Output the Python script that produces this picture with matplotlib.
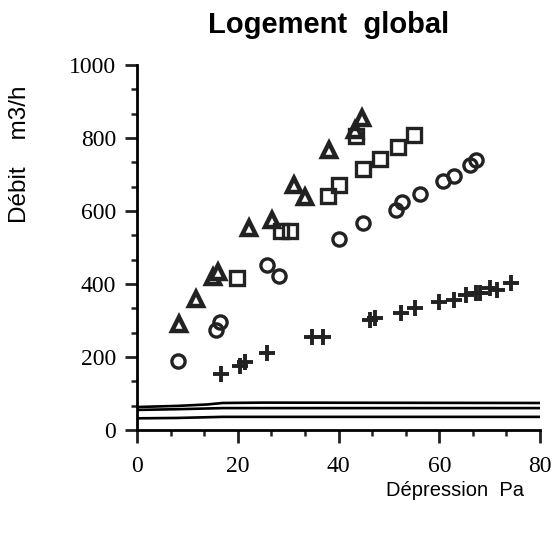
import numpy as np
import matplotlib
matplotlib.use("Agg")
import matplotlib.pyplot as plt
from matplotlib.ticker import MultipleLocator

# triangles
tri_x = [8.3, 11.7, 15.1, 16.1, 22.2, 26.8, 31.2, 33.3, 38.1, 43.3, 44.6]
tri_y = [290, 359, 419, 433, 553, 575, 671, 638, 767, 822, 855]
# squares
sq_x = [19.8, 28.5, 30.3, 37.9, 40.1, 43.5, 44.8, 48.2, 51.8, 55.0]
sq_y = [416, 545, 545, 641, 671, 806, 715, 742, 775, 808]
# circles
circ_x = [8.2, 15.7, 16.5, 25.8, 28.2, 40.1, 44.8, 51.4, 52.6, 56.2, 60.7, 62.9, 66.1, 67.3]
circ_y = [189, 274, 296, 452, 422, 523, 567, 603, 625, 647, 682, 696, 726, 740]
# crosses
plus_x = [16.7, 20.5, 21.5, 25.8, 34.7, 36.9, 46.2, 47.2, 52.4, 55.2, 59.9, 62.9,
          65.3, 67.3, 68.0, 70.0, 71.4, 74.2]
plus_y = [153, 175, 185, 211, 255, 255, 301, 306, 320, 334, 351, 356,
          370, 375, 375, 389, 384, 403]

# bottom curves
line_x = [0, 8, 14, 17, 25, 80]
line1 = [63, 66, 70, 74, 75, 74]
line2 = [55, 57, 59, 60, 60, 60]
line3 = [32, 33, 35, 36, 36, 36]

fig = plt.figure(figsize=(5.55, 5.36), dpi=100)
ax = fig.add_axes([137/555, 1 - 430/536, 403/555, 365/536])

for ly in (line1, line2, line3):
    ax.plot(line_x, ly, "-k", linewidth=1.9)

ax.plot(tri_x, tri_y, linestyle="none", marker="^", markersize=10,
        markerfacecolor="white", markeredgecolor="#222222", markeredgewidth=3.2)
ax.plot(sq_x, sq_y, linestyle="none", marker="s", markersize=10,
        markerfacecolor="none", markeredgecolor="#222222", markeredgewidth=2.4)
ax.plot(circ_x, circ_y, linestyle="none", marker="o", markersize=9.5,
        markerfacecolor="none", markeredgecolor="#222222", markeredgewidth=2.4)
ax.plot(plus_x, plus_y, linestyle="none", marker="+", markersize=12,
        markeredgecolor="#222222", markeredgewidth=2.8)

ax.set_xlim(0, 80)
ax.set_ylim(0, 1000)
ax.spines["top"].set_visible(False)
ax.spines["right"].set_visible(False)
ax.spines["left"].set_linewidth(2)
ax.spines["bottom"].set_linewidth(2)

ax.xaxis.set_major_locator(MultipleLocator(20))
ax.xaxis.set_minor_locator(MultipleLocator(20/3))
ax.yaxis.set_major_locator(MultipleLocator(200))
ax.yaxis.set_minor_locator(MultipleLocator(200/3))
ax.tick_params(which="major", direction="out", length=9, width=2, color="#222222")
ax.tick_params(which="minor", direction="out", length=4, width=1.8, color="#222222")
ax.tick_params(axis="both", labelsize=17)
ax.tick_params(axis="x", pad=10)
ax.tick_params(axis="y", pad=6)
for lab in ax.get_xticklabels() + ax.get_yticklabels():
    lab.set_fontfamily("Liberation Serif")

fig.text(0.593, 0.953, "Logement  global", ha="center", va="center",
         fontsize=21, fontweight="bold", family="Liberation Sans")
fig.text(0.036, 0.713, "Débit    m3/h", rotation=90, ha="center", va="center",
         fontsize=17.5, family="Liberation Sans")
fig.text(0.945, 0.085, "Dépression  Pa", ha="right", va="center",
         fontsize=14.5, family="Liberation Sans")

fig.savefig("out.png", dpi=100)
